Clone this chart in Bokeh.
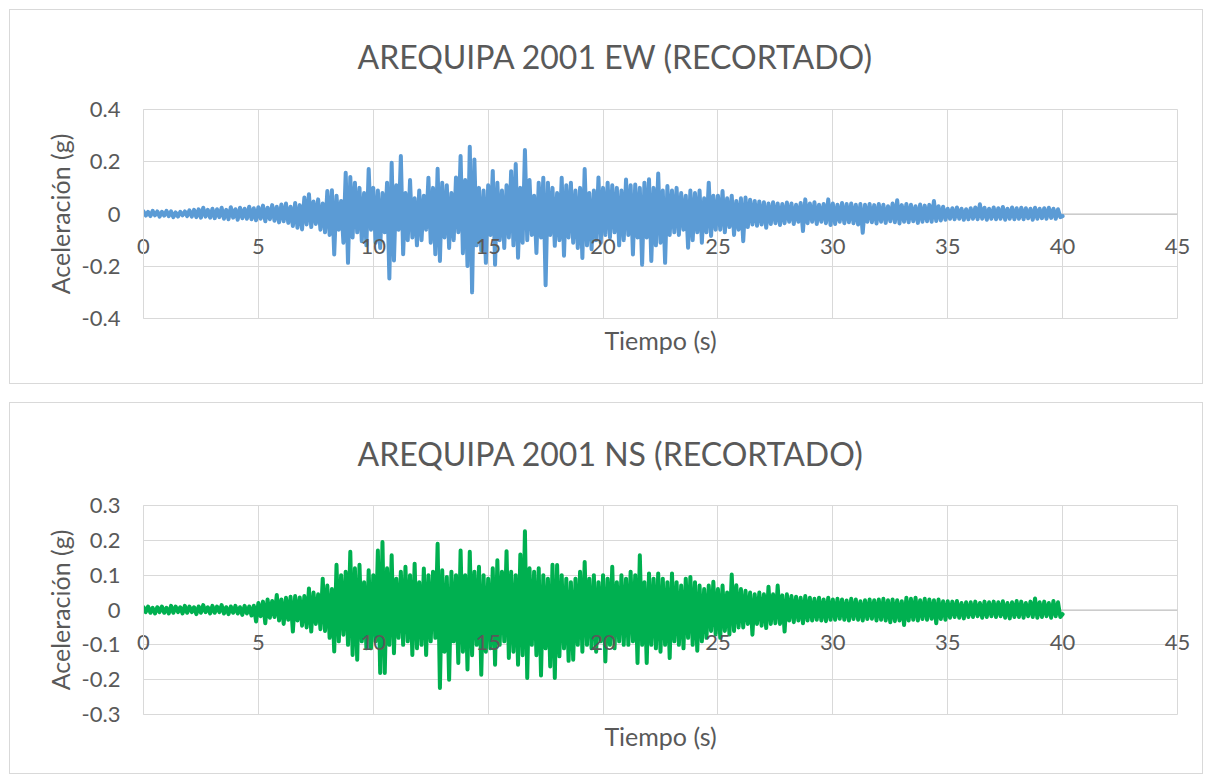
import numpy as np
from bokeh.plotting import figure
from bokeh.models import Range1d, FixedTicker, Title, ColumnDataSource, Span
from bokeh.layouts import column
from bokeh.embed import file_html
from bokeh.resources import INLINE

# ---------------- data ----------------
ew_title = "AREQUIPA 2001 EW (RECORTADO)"
ns_title = "AREQUIPA 2001 NS (RECORTADO)"
x_label = "Tiempo (s)"
y_label = "Aceleración (g)"

x_ticks = [0, 5, 10, 15, 20, 25, 30, 35, 40, 45]
x_tick_labels = ["0", "5", "10", "15", "20", "25", "30", "35", "40", "45"]
ew_y_ticks = [-0.4, -0.2, 0, 0.2, 0.4]
ew_y_labels = ["-0.4", "-0.2", "0", "0.2", "0.4"]
ns_y_ticks = [-0.3, -0.2, -0.1, 0, 0.1, 0.2, 0.3]
ns_y_labels = ["-0.3", "-0.2", "-0.1", "0", "0.1", "0.2", "0.3"]

sample_step = 0.1  # s

# EW acceleration, milli-g, one row per second
ew_mg = [
    10, -6, 8, -8, 12, -5, 10, -10, 8, -6,
    12, -8, 10, -12, 6, -10, 8, -5, 10, -8,
    14, -10, 16, -12, 18, -14, 24, -10, 16, -14,
    20, -16, 18, -12, 24, -18, 16, -20, 26, -14,
    18, -22, 24, -16, 20, -18, 28, -20, 22, -24,
    26, -18, 32, -28, 24, -20, 34, -26, 28, -32,
    36, -28, 40, -34, 28, -46, 42, -53, 34, -59,
    63, -40, 76, -50, 48, -38, 56, -60, 40, -70,
    88, -80, 91, -155, 70, -60, 50, -110, 158, -187,
    142, -90, 120, -70, 100, -104, 80, -120, 172, -60,
    100, -110, 90, -130, 80, -70, 120, -247, 196, -178,
    110, -60, 222, -154, 80, -100, 130, -90, 60, -120,
    90, -100, 70, -60, 139, -110, 100, -154, 173, -180,
    120, -90, 110, -130, 80, -100, 140, -70, 222, -150,
    130, -199, 257, -300, 209, -120, 100, -140, 90, -187,
    110, -80, 165, -194, 120, -100, 90, -130, 110, -90,
    164, -120, 191, -167, 100, -110, 245, -100, 130, -80,
    70, -149, 120, -90, 139, -273, 120, -80, 100, -122,
    80, -100, 139, -160, 110, -90, 120, -110, 90, -130,
    100, -168, 172, -120, 80, -135, 90, -100, 140, -110,
    100, -80, 120, -90, 110, -70, 100, -120, 90, -100,
    132, -80, 110, -155, 113, -90, 100, -194, 120, -90,
    133, -180, 100, -120, 155, -110, 90, -187, 107, -80,
    90, -70, 100, -80, 80, -60, 70, -129, 90, -100,
    80, -70, 90, -110, 60, -70, 120, -84, 70, -60,
    70, -60, 88, -70, 60, -50, 70, -80, 50, -60,
    60, -104, 63, -50, 55, -40, 50, -45, 48, -40,
    45, -53, 40, -38, 45, -35, 40, -42, 38, -35,
    44, -30, 40, -38, 35, -30, 42, -65, 56, -35,
    40, -30, 45, -38, 35, -30, 38, -35, 56, -42,
    40, -38, 35, -30, 42, -35, 38, -32, 40, -35,
    35, -40, 38, -72, 35, -30, 38, -32, 34, -36,
    38, -30, 35, -34, 30, -28, 40, -32, 53, -36,
    34, -30, 38, -32, 35, -28, 30, -34, 36, -30,
    32, -28, 35, -30, 50, -27, 30, -25, 28, -22,
    20, -18, 22, -20, 25, -18, 20, -22, 18, -20,
    22, -18, 25, -20, 37, -18, 24, -22, 20, -18,
    25, -20, 22, -18, 27, -22, 20, -18, 25, -20,
    22, -18, 24, -20, 22, -16, 20, -22, 24, -18,
    20, -16, 22, -18, 24, -15, 20, -18, 18, -12,
    -8,
]

# NS acceleration, milli-g, one row per second
ns_mg = [
    8, -6, 10, -8, 6, -10, 8, -6, 10, -8,
    6, -10, 12, -8, 10, -6, 8, -10, 12, -8,
    10, -6, 8, -12, 10, -8, 14, -6, 8, -10,
    12, -8, 10, -6, 14, -10, 8, -12, 10, -8,
    12, -10, 8, -14, 12, -10, 10, -16, 12, -33,
    20, -18, 24, -38, 30, -22, 26, -20, 43, -30,
    30, -40, 35, -28, 38, -62, 40, -30, 36, -45,
    40, -50, 62, -62, 50, -40, 45, -55, 90, -60,
    70, -80, 60, -119, 130, -90, 100, -71, 110, -100,
    167, -129, 120, -143, 130, -90, 80, -110, 114, -110,
    100, -90, 171, -181, 195, -181, 120, -100, 157, -124,
    90, -80, 110, -100, 124, -90, 100, -129, 133, -110,
    80, -100, 119, -129, 100, -90, 110, -80, 190, -224,
    114, -120, 95, -200, 110, -90, 100, -152, 171, -120,
    100, -171, 167, -130, 110, -100, 124, -186, 100, -120,
    90, -110, 120, -157, 143, -100, 110, -90, 169, -138,
    110, -120, 100, -157, 159, -130, 226, -195, 120, -100,
    110, -130, 120, -188, 100, -110, 90, -162, 130, -195,
    129, -133, 100, -110, 90, -146, 80, -143, 90, -100,
    110, -120, 138, -100, 90, -110, 100, -120, 80, -90,
    100, -148, 90, -100, 124, -110, 80, -90, 100, -100,
    90, -100, 110, -90, 100, -152, 157, -100, 80, -152,
    105, -100, 90, -110, 105, -120, 90, -100, 80, -138,
    105, -90, 80, -100, 70, -110, 90, -80, 95, -100,
    80, -117, 70, -90, 60, -80, 70, -60, 81, -70,
    60, -80, 70, -60, 50, -70, 102, -60, 71, -50,
    60, -50, 55, -40, 50, -71, 45, -40, 50, -45,
    45, -52, 67, -40, 45, -38, 70, -40, 42, -62,
    45, -30, 40, -35, 38, -30, 35, -38, 40, -30,
    35, -30, 32, -28, 35, -30, 30, -32, 35, -28,
    30, -28, 32, -25, 30, -28, 27, -30, 32, -26,
    30, -28, 25, -30, 28, -26, 30, -25, 28, -30,
    30, -28, 32, -30, 28, -35, 30, -32, 28, -30,
    25, -43, 35, -30, 32, -28, 35, -30, 28, -26,
    32, -28, 30, -25, 28, -38, 30, -26, 25, -28,
    25, -22, 24, -20, 26, -22, 20, -24, 22, -20,
    22, -20, 24, -18, 20, -22, 24, -20, 22, -18,
    24, -20, 22, -18, 25, -22, 20, -24, 22, -20,
    26, -20, 24, -22, 20, -18, 24, -20, 33, -22,
    22, -20, 24, -18, 20, -22, 26, -18, 22, -20,
    -12,
]

# ---------------- style ----------------
FONT = "Lato"
TEXT = "#595959"
GRID = "#d9d9d9"
AXIS = "#bfbfbf"


def make_chart(title, values_mg, color, y_ticks, y_labels, y_min, y_max,
               height, top_border, bottom_border, title_gap):
    t = [round(i * sample_step, 1) for i in range(len(values_mg))]
    acc = [v / 1000.0 for v in values_mg]
    src = ColumnDataSource(dict(t=t, a=acc))

    p = figure(width=1194, height=height, output_backend="svg",
               toolbar_location=None, x_range=Range1d(0, 45),
               y_range=Range1d(y_min, y_max),
               min_border_left=133, min_border_right=27,
               min_border_top=top_border, min_border_bottom=bottom_border,
               background_fill_color="white", border_fill_color="white",
               styles={"border": "1px solid #d9d9d9"})
    p.outline_line_color = GRID

    # spacer between frame and title (nearest the frame), then the title
    p.add_layout(Title(text=" ", text_font_size="1px", standoff=title_gap,
                       text_color="white"), "above")
    p.add_layout(Title(text=title, align="left", offset=214,
                       text_font=FONT, text_font_size="32px",
                       text_font_style="normal", text_color=TEXT,
                       standoff=0), "above")

    # horizontal axis: line at y = 0, labels pulled up under it
    p.add_layout(Span(location=0, dimension="width", line_color=AXIS,
                      line_width=1, level="underlay"))
    p.xaxis.ticker = FixedTicker(ticks=x_ticks)
    p.xaxis.major_label_overrides = dict(zip(x_ticks, x_tick_labels))
    p.xaxis.axis_line_color = None
    p.xaxis.major_tick_line_color = None
    p.xaxis.minor_tick_line_color = None
    p.xaxis.major_label_text_font = FONT
    p.xaxis.major_label_text_font_size = "22px"
    p.xaxis.major_label_text_color = TEXT
    p.xaxis.major_label_standoff = -86
    p.xaxis.axis_label = x_label
    p.xaxis.axis_label_text_font = FONT
    p.xaxis.axis_label_text_font_size = "25px"
    p.xaxis.axis_label_text_font_style = "normal"
    p.xaxis.axis_label_text_color = TEXT
    p.xaxis.axis_label_standoff = 68

    p.yaxis.ticker = FixedTicker(ticks=y_ticks)
    p.yaxis.major_label_overrides = dict(zip(y_ticks, y_labels))
    p.yaxis.axis_line_color = GRID
    p.yaxis.major_tick_line_color = None
    p.yaxis.minor_tick_line_color = None
    p.yaxis.major_label_text_font = FONT
    p.yaxis.major_label_text_font_size = "22px"
    p.yaxis.major_label_text_color = TEXT
    p.yaxis.major_label_standoff = 17
    p.yaxis.axis_label = y_label
    p.yaxis.axis_label_text_font = FONT
    p.yaxis.axis_label_text_font_size = "25px"
    p.yaxis.axis_label_text_font_style = "normal"
    p.yaxis.axis_label_text_color = TEXT
    p.yaxis.axis_label_standoff = 4

    p.xgrid.ticker = FixedTicker(ticks=x_ticks)
    p.ygrid.ticker = FixedTicker(ticks=y_ticks)
    p.xgrid.grid_line_color = GRID
    p.ygrid.grid_line_color = GRID

    p.line("t", "a", source=src, line_color=color, line_width=4,
           line_join="round", line_cap="round")
    return p


p1 = make_chart(ew_title, ew_mg, "#5B9BD5", ew_y_ticks, ew_y_labels,
                -0.4, 0.4, 375, 99, 67, 31)
p2 = make_chart(ns_title, ns_mg, "#00B050", ns_y_ticks, ns_y_labels,
                -0.3, 0.3, 372, 102, 61, 30)

layout = column(p1, p2, spacing=18, margin=(9, 0, 0, 9))
open("out.html", "w").write(file_html(layout, INLINE))
